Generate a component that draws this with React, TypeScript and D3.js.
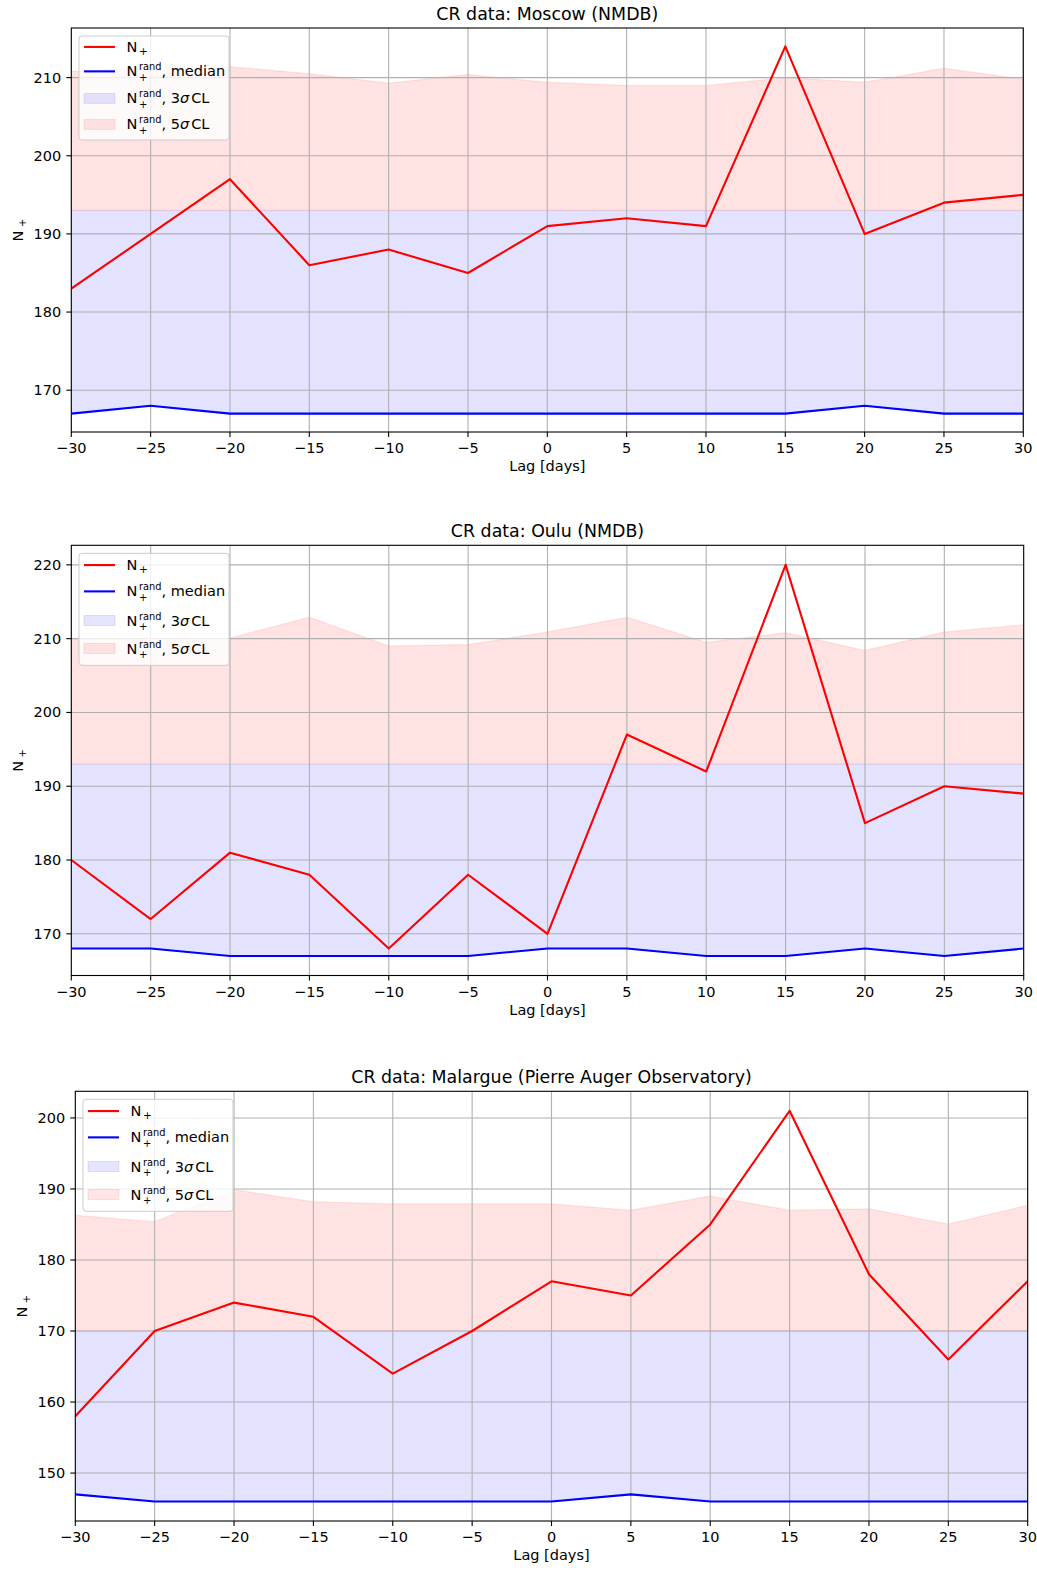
import React from 'react';
import * as d3 from 'd3';

const FONT = 'DejaVu Sans, Verdana, sans-serif';

// lag in days
const lags = [-30, -25, -20, -15, -10, -5, 0, 5, 10, 15, 20, 25, 30];
const xTicks = [-30, -25, -20, -15, -10, -5, 0, 5, 10, 15, 20, 25, 30];

// Moscow
const moscowNplus = [183, 190, 197, 186, 188, 185, 191, 192, 191, 214, 190, 194, 195];
const moscowMedian = [167, 168, 167, 167, 167, 167, 167, 167, 167, 167, 168, 167, 167];
const moscowUpper3 = [193, 193, 193, 193, 193, 193, 193, 193, 193, 193, 193, 193, 193];
const moscowUpper5 = [210.8, 211.3, 211.4, 210.5, 209.3, 210.4, 209.4, 209.0, 209.0, 210.0, 209.4, 211.2, 209.8];
const moscowYTicks = [170, 180, 190, 200, 210];

// Oulu
const ouluNplus = [180, 172, 181, 178, 168, 178, 170, 197, 192, 220, 185, 190, 189];
const ouluMedian = [168, 168, 167, 167, 167, 167, 168, 168, 167, 167, 168, 167, 168];
const ouluUpper3 = [193, 193, 193, 193, 193, 193, 193, 193, 193, 193, 193, 193, 193];
const ouluUpper5 = [210.0, 210.0, 210.1, 212.9, 209.0, 209.2, 210.9, 212.9, 209.5, 210.8, 208.4, 210.9, 211.9];
const ouluYTicks = [170, 180, 190, 200, 210, 220];

// Malargue
const malargueNplus = [158, 170, 174, 172, 164, 170, 177, 175, 185, 201, 178, 166, 177];
const malargueMedian = [147, 146, 146, 146, 146, 146, 146, 147, 146, 146, 146, 146, 146];
const malargueUpper3 = [170, 170, 170, 170, 170, 170, 170, 170, 170, 170, 170, 170, 170];
const malargueUpper5 = [186.3, 185.4, 189.9, 188.2, 187.9, 187.9, 187.9, 187.0, 189.0, 187.0, 187.2, 185.05, 187.7];
const malargueYTicks = [150, 160, 170, 180, 190, 200];

const fmt = (v) => (v < 0 ? '\u2212' + Math.abs(v) : String(v));

function Legend({ x0, y0, h }) {
  const w = 150;
  const rows = [0.105, 0.34, 0.6, 0.85].map((f) => y0 + f * h);
  const hx = x0 + 5;
  const tx = x0 + 47.5;
  const randLabel = (cy) => (
    <g>
      <text x={tx} y={cy + 5} fontSize={14.5}>N</text>
      <text x={tx + 12.5} y={cy - 1} fontSize={9.8}>rand</text>
      <text x={tx + 12.5} y={cy + 9.5} fontSize={10}>+</text>
    </g>
  );
  return (
    <g fontFamily={FONT} fill="#000">
      <rect x={x0} y={y0} width={w} height={h} rx={3} fill="#fff" fillOpacity={0.8} stroke="#cccccc" strokeWidth={1} />
      <line x1={hx} x2={hx + 31} y1={rows[0]} y2={rows[0]} stroke="#ff0000" strokeWidth={2.1} />
      <text x={tx} y={rows[0] + 5} fontSize={14.5}>N</text>
      <text x={tx + 12.5} y={rows[0] + 8} fontSize={10.5}>+</text>

      <line x1={hx} x2={hx + 31} y1={rows[1]} y2={rows[1]} stroke="#0000ff" strokeWidth={2.1} />
      {randLabel(rows[1])}
      <text x={tx + 35} y={rows[1] + 5} fontSize={14.5}>, median</text>

      <rect x={hx} y={rows[2] - 5} width={31} height={10} fill="#0000ff" fillOpacity={0.1} stroke="#0000ff" strokeOpacity={0.1} />
      {randLabel(rows[2])}
      <text x={tx + 35} y={rows[2] + 5} fontSize={14.5}>
        , 3<tspan fontStyle="italic">σ</tspan><tspan dx={2}>CL</tspan>
      </text>

      <rect x={hx} y={rows[3] - 5} width={31} height={10} fill="#ff0000" fillOpacity={0.1} stroke="#ff0000" strokeOpacity={0.1} />
      {randLabel(rows[3])}
      <text x={tx + 35} y={rows[3] + 5} fontSize={14.5}>
        , 5<tspan fontStyle="italic">σ</tspan><tspan dx={2}>CL</tspan>
      </text>
    </g>
  );
}

function Panel({ id, title, nPlus, median, upper3, upper5, yTicks, left, right, top, bottom, legendH }) {
  const x = d3.scaleLinear().domain([-30, 30]).range([left, right]);
  const all = [...nPlus, ...median, ...upper3, ...upper5];
  const [lo, hi] = d3.extent(all);
  const pad = 0.05 * (hi - lo);
  const y = d3.scaleLinear().domain([lo - pad, hi + pad]).range([bottom, top]);
  const idx = lags.map((_, i) => i);

  const area3 = d3.area().x((i) => x(lags[i])).y0((i) => y(median[i])).y1((i) => y(upper3[i]))(idx);
  const area5 = d3.area().x((i) => x(lags[i])).y0((i) => y(upper3[i])).y1((i) => y(upper5[i]))(idx);
  const lineN = d3.line().x((i) => x(lags[i])).y((i) => y(nPlus[i]))(idx);
  const lineM = d3.line().x((i) => x(lags[i])).y((i) => y(median[i]))(idx);

  const midY = (top + bottom) / 2;
  const clip = `clip-${id}`;

  return (
    <g>
      <defs>
        <clipPath id={clip}>
          <rect x={left} y={top} width={right - left} height={bottom - top} />
        </clipPath>
      </defs>
      <g clipPath={`url(#${clip})`}>
        <path d={area5} fill="#ff0000" fillOpacity={0.11} stroke="#ff0000" strokeOpacity={0.08} strokeWidth={1.4} />
        <path d={area3} fill="#0000ff" fillOpacity={0.11} stroke="#0000ff" strokeOpacity={0.05} strokeWidth={1} />
        {xTicks.map((t) => (
          <line key={'gx' + t} x1={x(t)} x2={x(t)} y1={top} y2={bottom} stroke="#b0b0b0" strokeWidth={1.1} />
        ))}
        {yTicks.map((t) => (
          <line key={'gy' + t} x1={left} x2={right} y1={y(t)} y2={y(t)} stroke="#b0b0b0" strokeWidth={1.1} />
        ))}
        <path d={lineM} fill="none" stroke="#0000ff" strokeWidth={2.1} strokeLinejoin="round" />
        <path d={lineN} fill="none" stroke="#ff0000" strokeWidth={2.1} strokeLinejoin="round" />
      </g>
      <rect x={left} y={top} width={right - left} height={bottom - top} fill="none" stroke="#000" strokeWidth={1.1} />
      <g fontFamily={FONT} fontSize={14.5} fill="#000">
        {xTicks.map((t) => (
          <g key={'tx' + t}>
            <line x1={x(t)} x2={x(t)} y1={bottom} y2={bottom + 5} stroke="#000" strokeWidth={1.1} />
            <text x={x(t)} y={bottom + 21} textAnchor="middle">{fmt(t)}</text>
          </g>
        ))}
        {yTicks.map((t) => (
          <g key={'ty' + t}>
            <line x1={left - 5} x2={left} y1={y(t)} y2={y(t)} stroke="#000" strokeWidth={1.1} />
            <text x={left - 10} y={y(t) + 5} textAnchor="end">{t}</text>
          </g>
        ))}
        <text x={(left + right) / 2} y={bottom + 39} textAnchor="middle">Lag [days]</text>
        <text x={(left + right) / 2} y={top - 8.5} textAnchor="middle" fontSize={17.4}>{title}</text>
        <g transform={`translate(${left - 48},${midY}) rotate(-90)`}>
          <text x={-6} y={0} textAnchor="middle">N</text>
          <text x={3} y={3} fontSize={10}>+</text>
        </g>
      </g>
      <Legend x0={left + 7.7} y0={top + 8} h={legendH} />
    </g>
  );
}

export default function App() {
  return (
    <svg
      width={1037}
      height={1570}
      style={{ position: 'absolute', left: 0, top: 0, background: '#fff' }}
    >
      <rect width={1037} height={1570} fill="#fff" />
      <Panel
        id="moscow"
        title="CR data: Moscow (NMDB)"
        nPlus={moscowNplus}
        median={moscowMedian}
        upper3={moscowUpper3}
        upper5={moscowUpper5}
        yTicks={moscowYTicks}
        left={71.3}
        right={1023.3}
        top={28}
        bottom={432}
        legendH={104}
      />
      <Panel
        id="oulu"
        title="CR data: Oulu (NMDB)"
        nPlus={ouluNplus}
        median={ouluMedian}
        upper3={ouluUpper3}
        upper5={ouluUpper5}
        yTicks={ouluYTicks}
        left={71.3}
        right={1023.7}
        top={545.3}
        bottom={975.5}
        legendH={112}
      />
      <Panel
        id="malargue"
        title="CR data: Malargue (Pierre Auger Observatory)"
        nPlus={malargueNplus}
        median={malargueMedian}
        upper3={malargueUpper3}
        upper5={malargueUpper5}
        yTicks={malargueYTicks}
        left={75.3}
        right={1027.7}
        top={1091.3}
        bottom={1521}
        legendH={112}
      />
    </svg>
  );
}
